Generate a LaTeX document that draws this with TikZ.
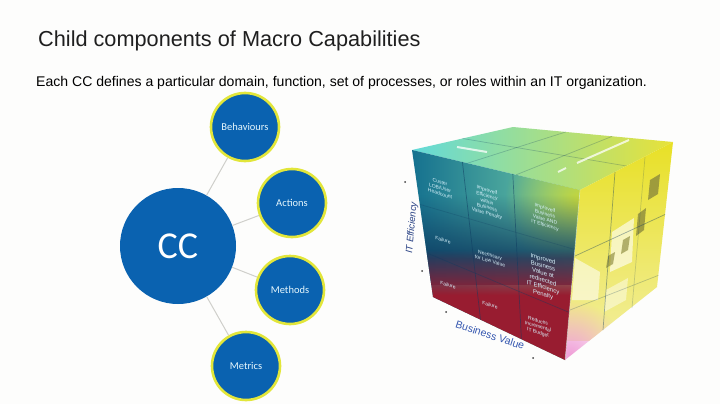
\documentclass[tikz,border=0pt]{standalone}
\usepackage{fontspec}
\setmainfont{Liberation Sans}
\newfontfamily\calibrifont{Carlito}
\usetikzlibrary{calc,fadings}
\definecolor{ccblue}{HTML}{0A62B0}
\definecolor{ringyellow}{HTML}{E2E63A}
\definecolor{linkgrey}{HTML}{CFCFCB}
\definecolor{pagewhite}{HTML}{FDFDFC}
\definecolor{axisblue}{HTML}{3557B0}
\definecolor{cubedeep}{HTML}{14708F}
\definecolor{cubecyan}{HTML}{36BEC6}
\definecolor{cubemint}{HTML}{74CFA6}
\definecolor{cubelime}{HTML}{C6D63A}
\definecolor{cubenavy}{HTML}{0E3A60}
\definecolor{cubered}{HTML}{981C30}
\definecolor{capcyan}{HTML}{62DADA}
\definecolor{capmint}{HTML}{CFEBA0}
\definecolor{capyellow}{HTML}{E8E238}
\definecolor{sideyellow}{HTML}{E8E026}
\definecolor{sidepale}{HTML}{F2EE9A}
\definecolor{sidepink}{HTML}{F0A0D8}
\definecolor{blockgrey}{HTML}{8C8A3C}
\tikzfading[name=fadein, top color=transparent!100, bottom color=transparent!0]
\tikzfading[name=softspot, inner color=transparent!0, outer color=transparent!100]
\begin{document}
\begin{tikzpicture}[
        x=1pt,y=-1pt,
        hub/.style={circle,fill=ccblue,text=white,minimum size=116pt,inner sep=0pt,font=\calibrifont\fontsize{38}{42}\selectfont},
        spoke/.style={circle,fill=ccblue,draw=ringyellow,line width=2.6pt,text=white!90!cyan,minimum size=68pt,inner sep=0pt,font=\calibrifont\fontsize{10.5}{12}\selectfont},
        link/.style={draw=linkgrey,line width=1pt},
        cubetext/.style={text=white!85!cyan,align=center,inner sep=0pt,yslant=-0.3,font=\fontsize{5}{5.8}\selectfont},
        gridline/.style={draw=cubenavy,opacity=0.5,line width=0.7pt},
        glowbar/.style={draw=white,opacity=0.75,line width=2pt},
        tickdot/.style={circle,fill=black!75,inner sep=0pt,minimum size=2pt}
    ]
        \useasboundingbox (0,0) rectangle (720,404);
        \fill[pagewhite] (0,0) rectangle (720,404);

        \node[anchor=base west,inner sep=0pt,text=black!88,font=\fontsize{21.7}{26}\selectfont] (title) at (38,47) {Child components of Macro Capabilities};
        \node[anchor=base west,inner sep=0pt,text=black,font=\fontsize{14.05}{16}\selectfont] (subtitle) at (36,86) {Each CC defines a particular domain, function, set of processes, or roles within an IT organization.};

        \node[hub] (cc) at (178,246) {CC};
        \node[spoke] (behaviours) at (245,127) {Behaviours};
        \node[spoke] (actions) at (292,203) {Actions};
        \node[spoke] (methods) at (290,290) {Methods};
        \node[spoke] (metrics) at (246,366) {Metrics};
        \draw[link] (cc) -- (behaviours);
        \draw[link] (cc) -- (actions);
        \draw[link] (cc) -- (methods);
        \draw[link] (cc) -- (metrics);

        \coordinate (lefttop) at (412,150);
        \coordinate (leftbot) at (433,297);
        \coordinate (fronttop) at (580,190);
        \coordinate (frontbot) at (565,360);
        \coordinate (righttop) at (673,142);
        \coordinate (rightbot) at (657,287);
        \coordinate (backtop) at (513,127);

        % top of the cube
        \begin{scope}
            \clip (lefttop) -- (backtop) -- (righttop) -- (fronttop) -- cycle;
            \shade[left color=capcyan,middle color=capmint,right color=capyellow] (412,120) rectangle (673,195);
        \end{scope}
        \draw[gridline,opacity=0.25] ($(lefttop)!0.33!(fronttop)$) -- ($(backtop)!0.33!(righttop)$);
        \draw[gridline,opacity=0.25] ($(lefttop)!0.62!(fronttop)$) -- ($(backtop)!0.62!(righttop)$);
        \draw[gridline,opacity=0.25] ($(lefttop)!0.5!(backtop)$) -- ($(fronttop)!0.5!(righttop)$);
        \draw[glowbar] (457,147) -- (487,152);
        \draw[glowbar] (577,163) -- (629,140);
        \draw[glowbar] (558,172) -- (566,168);

        % right side of the cube
        \begin{scope}
            \clip (fronttop) -- (righttop) -- (rightbot) -- (frontbot) -- cycle;
            \shade[top color=sideyellow,bottom color=sidepale] (560,142) rectangle (680,340);
            \fill[sidepink,path fading=softspot] (515,300) rectangle (625,410);
            \fill[white,opacity=0.55] (575,258) -- (600,272) -- (598,300) -- (572,300) -- cycle;
            \fill[white,opacity=0.6] (612,232) -- (634,218) -- (632,262) -- (610,272) -- cycle;
            \fill[white,opacity=0.45] (606,290) -- (628,278) -- (626,300) -- (604,312) -- cycle;
            \fill[blockgrey,opacity=0.8] (650,180) -- (660,174) -- (658,194) -- (648,200) -- cycle;
            \fill[blockgrey,opacity=0.8] (638,214) -- (646,208) -- (644,230) -- (636,236) -- cycle;
            \fill[blockgrey,opacity=0.65] (623,240) -- (630,236) -- (628,250) -- (621,254) -- cycle;
            \fill[blockgrey,opacity=0.65] (608,256) -- (615,252) -- (613,264) -- (606,268) -- cycle;
        \end{scope}
        \draw[gridline,opacity=0.4] (575,256) -- ($(righttop)!0.5!(rightbot)$);
        \draw[gridline,opacity=0.25] (570,310) -- ($(righttop)!0.92!(rightbot)$);
        \draw[gridline,opacity=0.4] (615,172) -- (603,330);
        \draw[gridline,opacity=0.2] (645,157) -- (632,308);

        % front of the cube
        \begin{scope}
            \clip (lefttop) -- (fronttop) -- (frontbot) -- (leftbot) -- cycle;
            \shade[left color=cubedeep,middle color=cubecyan,right color=cubemint] (410,150) rectangle (582,365);
            \fill[cubelime,path fading=softspot] (505,125) rectangle (655,275);
            \fill[cubenavy,opacity=0.85,path fading=fadein] (410,195) rectangle (582,258);
            \fill[cubenavy,opacity=0.85] (410,258) rectangle (582,285);
            \fill[cubered,path fading=fadein] (410,250) rectangle (582,295);
            \fill[cubered] (410,295) rectangle (582,365);
        \end{scope}
        \draw[gridline] ($(lefttop)!0.30!(fronttop)$) -- ($(leftbot)!0.36!(frontbot)$);
        \draw[gridline] ($(lefttop)!0.60!(fronttop)$) -- ($(leftbot)!0.67!(frontbot)$);
        \draw[gridline,opacity=0.25] ($(lefttop)!0.37!(leftbot)$) -- ($(fronttop)!0.35!(frontbot)$);
        \draw[gridline,opacity=0.4] ($(lefttop)!0.70!(leftbot)$) -- ($(fronttop)!0.72!(frontbot)$);
        \draw[white,opacity=0.4,line width=0.6pt] (fronttop) -- (frontbot);

        \node[cubetext] (usercount) at (440,188) {Custer\\LOB/User\\Headcount};
        \node[cubetext] (failuretop) at (443,240) {Failure};
        \node[cubetext] (failureleft) at (448,285) {Failure};
        \node[cubetext] (penalty) at (487,202) {Improved\\Efficiency\\within\\Business\\Value Penalty};
        \node[cubetext] (necessary) at (490,258) {Necessary\\for Low Value};
        \node[cubetext] (failuremid) at (490,305) {Failure};
        \node[cubetext] (both) at (545,217) {Improved\\Business\\Value AND\\IT Efficiency};
        \node[cubetext,font=\fontsize{6}{7}\selectfont] (redirected) at (543,277) {Improved\\Business\\Value at\\redirected\\IT Efficiency\\Penalty};
        \node[cubetext] (budget) at (538,327) {Reduces\\Incremental\\IT Budget};

        \node[text=axisblue,inner sep=0pt,rotate=-18,font=\fontsize{10.5}{12}\selectfont] (businessvalue) at (490,335) {Business Value};
        \node[text=axisblue!75!black,inner sep=0pt,rotate=85,font=\itshape\fontsize{9.5}{11}\selectfont] (itefficiency) at (412,228) {IT Efficiency};
        \node[tickdot] (tickone) at (405,182) {};
        \node[tickdot] (ticktwo) at (422,271) {};
        \node[tickdot] (tickthree) at (446,312) {};
        \node[tickdot] (tickfour) at (533,358) {};
    \end{tikzpicture}
\end{document}
